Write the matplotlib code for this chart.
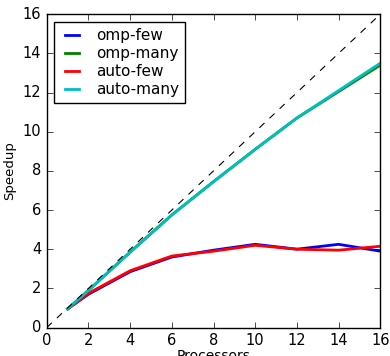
import matplotlib
matplotlib.use("Agg")
import matplotlib.pyplot as plt

plt.style.use('classic')

procs = [1, 2, 4, 6, 8, 10, 12, 14, 16]
omp_few = [0.95, 1.7, 2.85, 3.6, 3.95, 4.25, 4.0, 4.25, 3.9]
omp_many = [0.95, 1.9, 3.85, 5.75, 7.45, 9.1, 10.7, 12.05, 13.4]
auto_few = [0.95, 1.75, 2.9, 3.65, 3.9, 4.2, 4.0, 3.95, 4.15]
auto_many = [0.95, 1.9, 3.85, 5.75, 7.45, 9.1, 10.7, 12.1, 13.5]
ideal = [0, 16]

fig = plt.figure(figsize=(3.9, 3.56), dpi=100)
ax = fig.add_axes([0.12, 0.08, 0.855, 0.88])
ax.plot(procs, omp_few, color='b', lw=2, label='omp-few')
ax.plot(procs, omp_many, color='g', lw=2, label='omp-many')
ax.plot(procs, auto_few, color='r', lw=2, label='auto-few')
ax.plot(procs, auto_many, color='c', lw=2, label='auto-many')
ax.plot(ideal, ideal, 'k--', lw=0.8, dashes=(5, 5))
ax.set_xlim(0, 16)
ax.set_ylim(0, 16)
ax.set_xticks(range(0, 17, 2))
ax.set_yticks(range(0, 17, 2))
ax.tick_params(labelsize=10.5)
ax.set_xlabel('Processors', fontsize=10, labelpad=1)
ax.set_ylabel('Speedup', fontsize=9.5)
ax.legend(loc='upper left', fontsize=11, labelspacing=0.2, handlelength=1.5,
          borderaxespad=0.5, borderpad=0.4)
fig.savefig('out.png', dpi=100)
